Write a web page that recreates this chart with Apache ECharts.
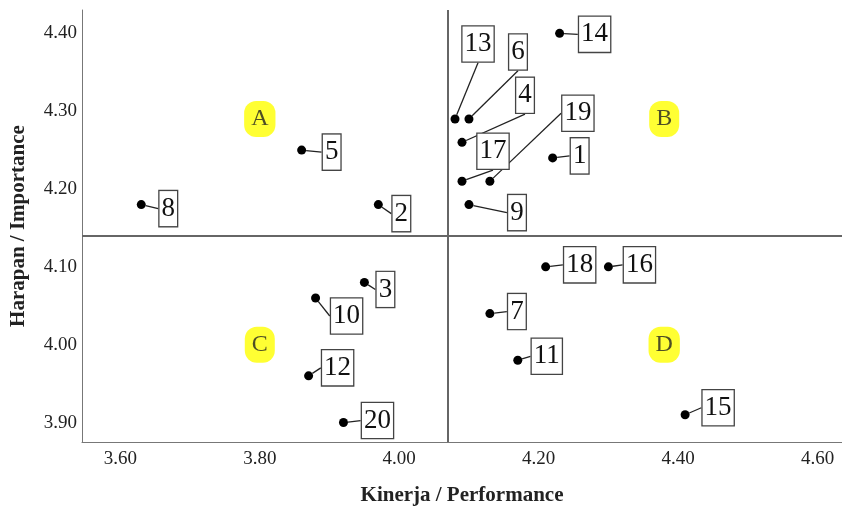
<!DOCTYPE html>
<html>
<head>
<meta charset="utf-8">
<script src="https://cdn.jsdelivr.net/npm/echarts@6/dist/echarts.min.js"></script>
<style>
  html, body { margin: 0; padding: 0; background: #fff; }
  #chart { width: 842px; height: 507px; }
</style>
</head>
<body>
<div id="chart"></div>
<script>
// atribut 1..20
var ids = [1, 2, 3, 4, 5, 6, 7, 8, 9, 10, 11, 12, 13, 14, 15, 16, 17, 18, 19, 20]
var kinerja = [4.22, 3.97, 3.95, 4.09, 3.86, 4.10, 4.13, 3.63, 4.10, 3.88,
  4.17, 3.87, 4.08, 4.23, 4.41, 4.30, 4.09, 4.21, 4.13, 3.92]
var harapan = [4.24, 4.18, 4.08, 4.26, 4.25, 4.29, 4.04, 4.18, 4.18, 4.06,
  3.98, 3.96, 4.29, 4.40, 3.91, 4.10, 4.21, 4.10, 4.21, 3.90]
var meanKinerja = 4.067
var meanHarapan = 4.141
var quadrantNames = ['A', 'B', 'C', 'D']
var quadrantX = [3.80, 4.38, 3.80, 4.38]
var quadrantY = [4.29, 4.29, 4.00, 4.00]

// geser kotak label (px) dari titik
var labelOffsets = [
  [27, -2], [23, 9], [21, 7], [63, -47], [30, 2], [49, -67], [27, -2], [27, 4],
  [48, 8], [31, 18], [29, -4], [29, -8], [23, -75], [35, 1], [33, -7], [31, -2],
  [31, -30], [34, -2], [88, -68], [34, -2]
]

var serif = "'Liberation Serif', 'DejaVu Serif', serif"

var points = ids.map(function(id, i) {
  return { name: String(id), value: [kinerja[i], harapan[i]] }
})
var quads = quadrantNames.map(function(n, i) {
  return { name: n, value: [quadrantX[i], quadrantY[i]] }
})

var chart = echarts.init(document.getElementById('chart'))
var option = {
  animation: false,
  grid: { left: 82, right: 0, top: 10, bottom: 65, outerBoundsMode: 'none', containLabel: false },
  xAxis: {
    type: 'value',
    min: 3.545,
    max: 4.635,
    splitNumber: 5,
    name: 'Kinerja / Performance',
    nameLocation: 'middle',
    nameGap: 43,
    nameTextStyle: { fontFamily: serif, fontWeight: 'bold', fontSize: 21, color: '#222' },
    axisLine: { lineStyle: { color: '#777', width: 1 } },
    axisTick: { show: false },
    splitLine: { show: false },
    axisLabel: {
      fontFamily: serif, fontSize: 19, color: '#222', margin: 8,
      formatter: function(v) {
        var k = v / 0.2
        return Math.abs(k - Math.round(k)) < 1e-6 ? v.toFixed(2) : ''
      }
    }
  },
  yAxis: {
    type: 'value',
    min: 3.875,
    max: 4.43,
    splitNumber: 5,
    name: 'Harapan / Importance',
    nameLocation: 'middle',
    nameGap: 53,
    nameTextStyle: { fontFamily: serif, fontWeight: 'bold', fontSize: 21, color: '#222' },
    axisLine: { lineStyle: { color: '#777', width: 1 } },
    axisTick: { show: false },
    splitLine: { show: false },
    axisLabel: {
      fontFamily: serif, fontSize: 19, color: '#222', margin: 5,
      formatter: function(v) {
        var k = v / 0.1
        return Math.abs(k - Math.round(k)) < 1e-6 ? v.toFixed(2) : ''
      }
    }
  },
  series: [
    {
      type: 'scatter',
      data: points,
      symbolSize: 9,
      itemStyle: { color: '#000', opacity: 1 },
      label: {
        show: true,
        position: 'inside',
        formatter: '{b}',
        fontFamily: serif,
        fontSize: 27,
        lineHeight: 28,
        color: '#111',
        backgroundColor: '#fff',
        borderColor: '#444',
        borderWidth: 1.3,
        padding: [4, 2, 3, 2]
      },
      labelLine: { show: true, lineStyle: { color: '#222', width: 1.3 } },
      labelLayout: function(params) {
        var o = labelOffsets[params.dataIndex]
        return { dx: o[0], dy: o[1] }
      },
      markLine: {
        silent: true,
        symbol: 'none',
        label: { show: false },
        lineStyle: { color: '#666', width: 2, type: 'solid' },
        data: [{ xAxis: meanKinerja }, { yAxis: meanHarapan }]
      },
      z: 3
    },
    {
      type: 'scatter',
      data: quads,
      symbolSize: 0,
      silent: true,
      label: {
        show: true,
        position: 'inside',
        formatter: '{b}',
        fontFamily: serif,
        fontSize: 24,
        color: '#222',
        backgroundColor: '#ffff00',
        borderRadius: 12,
        padding: [7, 7, 5, 7]
      },
      z: 2
    }
  ]
}
chart.setOption(option)
</script>
</body>
</html>
